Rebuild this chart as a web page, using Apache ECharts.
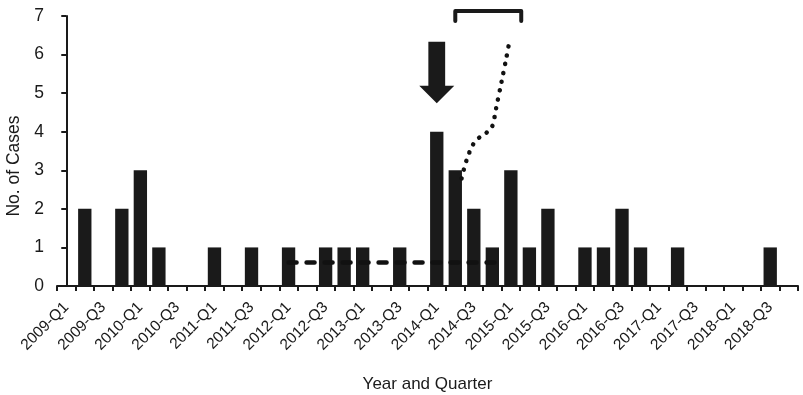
<!DOCTYPE html>
<html>
<head>
<meta charset="utf-8">
<script src="https://cdn.jsdelivr.net/npm/echarts@6/dist/echarts.min.js"></script>
<style>html,body{margin:0;padding:0;background:#fff}#c{width:803px;height:395px}</style>
</head>
<body>
<div id="c"></div>
<script>
// ---- data ----
var categories = [
  '2009-Q1','2009-Q2','2009-Q3','2009-Q4',
  '2010-Q1','2010-Q2','2010-Q3','2010-Q4',
  '2011-Q1','2011-Q2','2011-Q3','2011-Q4',
  '2012-Q1','2012-Q2','2012-Q3','2012-Q4',
  '2013-Q1','2013-Q2','2013-Q3','2013-Q4',
  '2014-Q1','2014-Q2','2014-Q3','2014-Q4',
  '2015-Q1','2015-Q2','2015-Q3','2015-Q4',
  '2016-Q1','2016-Q2','2016-Q3','2016-Q4',
  '2017-Q1','2017-Q2','2017-Q3','2017-Q4',
  '2018-Q1','2018-Q2','2018-Q3','2018-Q4'
];
var cases = [
  0,2,0,2,
  3,1,0,0,
  1,0,1,0,
  1,0,1,1,
  1,0,1,0,
  4,3,2,1,
  3,1,2,0,
  1,1,2,1,
  0,1,0,0,
  0,0,1,0
];
var yTicks = [0,1,2,3,4,5,6,7];
// annotations (x in category index units, y in case units)
var baselineDashed = [[12.0, 0.61], [23.3, 0.61]];
var dottedCurve = [[21.34,2.79],[21.6,3.25],[21.95,3.66],[22.3,3.85],[22.7,3.98],[23.0,4.15],[23.2,4.6],[23.5,5.3],[23.75,5.9],[23.95,6.42]];
var arrowMark = [[20, 6.33, 5.19, 4.74]];      // [x, shaftTop, headBase, tip]
var bracketMark = [[21.0, 24.56, 7.13, 6.87]];  // [left, right, top, legBottom]

var FONT = 'Liberation Sans, Arial, Helvetica, sans-serif';
var INK = '#1a1a1a';

var chart = echarts.init(document.getElementById('c'), null, {renderer: 'canvas'});
chart.setOption({
  backgroundColor: '#ffffff',
  animation: false,
  textStyle: {fontFamily: FONT, color: INK},
  grid: {left: 57, right: 5, top: 16, bottom: 109, containLabel: false, outerBoundsMode: 'none'},
  xAxis: [{
    type: 'category',
    data: categories,
    boundaryGap: true,
    name: 'Year and Quarter',
    nameLocation: 'middle',
    nameGap: 90,
    nameTextStyle: {fontSize: 17, color: INK, fontFamily: FONT},
    axisLine: {lineStyle: {color: INK, width: 2}},
    axisTick: {show: true, interval: 0, alignWithLabel: false, length: 5, lineStyle: {color: INK, width: 2}},
    axisLabel: {interval: 1, rotate: 45, margin: 19, fontSize: 15.5, color: INK, fontFamily: FONT},
    splitLine: {show: false}
  }, {
    type: 'value',
    min: -0.5,
    max: categories.length - 0.5,
    show: false
  }],
  yAxis: {
    type: 'value',
    min: yTicks[0],
    max: yTicks[yTicks.length - 1],
    interval: 1,
    name: 'No. of Cases',
    nameLocation: 'middle',
    nameGap: 31,
    nameTextStyle: {fontSize: 17.5, color: INK, fontFamily: FONT, padding: [0, 30, 0, 0]},
    axisLine: {show: true, lineStyle: {color: INK, width: 2}},
    axisTick: {show: true, length: 5, lineStyle: {color: INK, width: 2}},
    axisLabel: {fontSize: 17.5, color: INK, margin: 13, fontFamily: FONT},
    splitLine: {show: false}
  },
  series: [{
    type: 'bar',
    data: cases,
    barWidth: '72%',
    itemStyle: {color: INK},
    z: 2
  }, {
    type: 'line',
    xAxisIndex: 1,
    data: baselineDashed,
    symbol: 'none',
    lineStyle: {color: '#111', width: 4.5, type: [8, 10], cap: 'round'},
    z: 3
  }, {
    type: 'line',
    xAxisIndex: 1,
    data: dottedCurve,
    smooth: 0.3,
    symbol: 'none',
    lineStyle: {color: '#111', width: 4.5, type: [0.1, 8.9], cap: 'round'},
    z: 3
  }, {
    type: 'custom',
    xAxisIndex: 1,
    data: arrowMark,
    clip: false,
    renderItem: function (params, api) {
      var top = api.coord([api.value(0), api.value(1)]);
      var base = api.coord([api.value(0), api.value(2)]);
      var tip = api.coord([api.value(0), api.value(3)]);
      var cx = top[0], sw = 8.4, hw = 17.5;
      return {
        type: 'polygon',
        shape: {points: [
          [cx - sw, top[1]], [cx + sw, top[1]], [cx + sw, base[1]], [cx + hw, base[1]],
          [cx, tip[1]], [cx - hw, base[1]], [cx - sw, base[1]]
        ]},
        style: {fill: INK}
      };
    },
    z: 4
  }, {
    type: 'custom',
    xAxisIndex: 1,
    data: bracketMark,
    clip: false,
    renderItem: function (params, api) {
      var a = api.coord([api.value(0), api.value(3)]);
      var b = api.coord([api.value(0), api.value(2)]);
      var c = api.coord([api.value(1), api.value(2)]);
      var d = api.coord([api.value(1), api.value(3)]);
      return {
        type: 'polyline',
        shape: {points: [a, b, c, d]},
        style: {stroke: INK, lineWidth: 4, fill: null, lineJoin: 'round', lineCap: 'round'}
      };
    },
    z: 4
  }]
});
</script>
</body>
</html>
